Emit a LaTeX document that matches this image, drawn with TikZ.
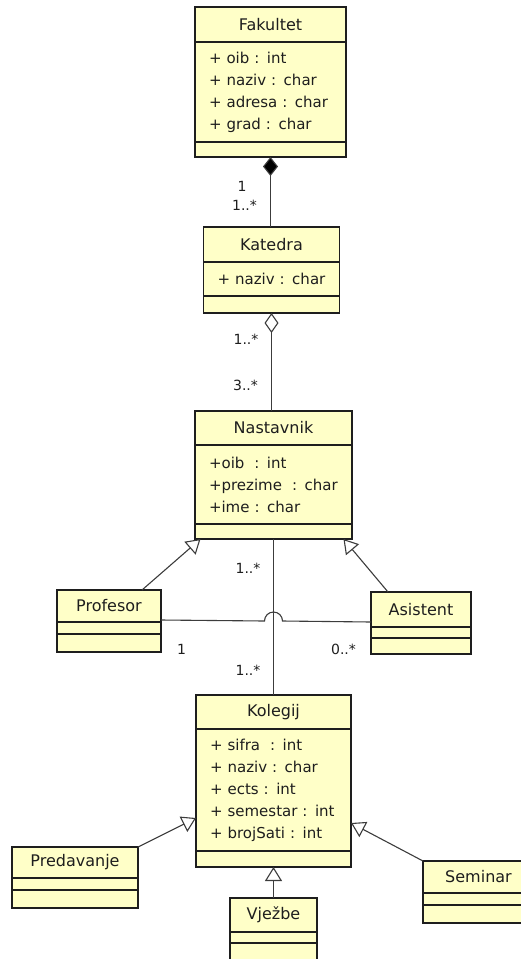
\documentclass[tikz,border=0pt]{standalone}
\usepackage{fontspec}
\setmainfont{DejaVu Sans}
\usetikzlibrary{arrows.meta,positioning}
\definecolor{umlfill}{HTML}{FFFFC8}
\definecolor{umlline}{HTML}{1E1E1E}
\definecolor{umlconn}{HTML}{3C3C3C}
\tikzset{
  umlhead/.style={draw=umlline,fill=umlfill,line width=1.3pt,outer sep=0pt,inner sep=0pt,align=center,text=umlline,font=\fontsize{16}{18}\selectfont},
  umlattr/.style={draw=umlline,fill=umlfill,line width=1.3pt,outer sep=0pt,inner xsep=14pt,inner ysep=0pt,align=left,text=umlline,font=\fontsize{15}{22}\selectfont},
  umlops/.style={draw=umlline,fill=umlfill,line width=1.3pt,outer sep=0pt,inner sep=0pt},
  umlassoc/.style={draw=umlconn,line width=1.1pt},
  umlcomp/.style={umlassoc,-{Diamond[length=19pt,width=15pt,fill=black]}},
  umlaggr/.style={umlassoc,-{Diamond[open,length=20pt,width=14pt,fill=white]}},
  umlgen/.style={umlassoc,-{Triangle[open,length=14pt,width=17pt,fill=white]}},
  umlmult/.style={inner sep=0pt,text=umlline,font=\fontsize{14}{16}\selectfont},
}
\begin{document}
\begin{tikzpicture}[x=1pt,y=1pt,node distance=0pt]
\useasboundingbox (0,0) rectangle (521,-959);
\clip (0,0) rectangle (521,-959);

% Fakultet
\node[umlhead,anchor=north,minimum width=151pt,minimum height=35pt] (fakh) at (270.5,-7) {Fakultet};
\node[umlattr,below=of fakh,text width=123pt,minimum height=100pt] (faka) {+ oib : int\\+ naziv : char\\+ adresa : char\\+ grad : char};
\node[umlops,below=of faka,minimum width=151pt,minimum height=15pt] (fako) {};

% Katedra
\node[umlhead,anchor=north,minimum width=136pt,minimum height=35pt] (kath) at (271.5,-227) {Katedra};
\node[umlattr,below=of kath,text width=108pt,minimum height=34pt] (kata) {+ naziv : char};
\node[umlops,below=of kata,minimum width=136pt,minimum height=17pt] (kato) {};

% Nastavnik
\node[umlhead,anchor=north,minimum width=157pt,minimum height=34pt] (nash) at (273.5,-411) {Nastavnik};
\node[umlattr,below=of nash,text width=129pt,minimum height=79pt] (nasa) {+oib \ : int\\+prezime \ : char\\+ime : char};
\node[umlops,below=of nasa,minimum width=157pt,minimum height=15pt] (naso) {};

% Profesor, Asistent
\node[umlhead,anchor=north,minimum width=104pt,minimum height=32pt] (profh) at (109,-590) {Profesor};
\node[umlops,below=of profh,minimum width=104pt,minimum height=12pt] (profa) {};
\node[umlops,below=of profa,minimum width=104pt,minimum height=18pt] (profo) {};

\node[umlhead,anchor=north,minimum width=100pt,minimum height=35pt] (asish) at (421,-592) {Asistent};
\node[umlops,below=of asish,minimum width=100pt,minimum height=11pt] (asisa) {};
\node[umlops,below=of asisa,minimum width=100pt,minimum height=16pt] (asiso) {};

% Kolegij
\node[umlhead,anchor=north,minimum width=155pt,minimum height=34pt] (kolh) at (273.5,-695) {Kolegij};
\node[umlattr,below=of kolh,text width=127pt,minimum height=122pt] (kola) {+ sifra \ : int\\+ naziv : char\\+ ects : int\\+ semestar : int\\+ brojSati : int};
\node[umlops,below=of kola,minimum width=155pt,minimum height=16pt] (kolo) {};

% Predavanje, Vjezbe, Seminar
\node[umlhead,anchor=north,minimum width=126pt,minimum height=31pt] (predh) at (75,-847) {Predavanje};
\node[umlops,below=of predh,minimum width=126pt,minimum height=12pt] (preda) {};
\node[umlops,below=of preda,minimum width=126pt,minimum height=18pt] (predo) {};

\node[umlhead,anchor=north,minimum width=87pt,minimum height=34pt] (vjeh) at (273.5,-898) {Vježbe};
\node[umlops,below=of vjeh,minimum width=87pt,minimum height=11pt] (vjea) {};
\node[umlops,below=of vjea,minimum width=87pt,minimum height=22pt] (vjeo) {};

\node[umlhead,anchor=north,minimum width=111pt,minimum height=32pt] (semh) at (478.5,-861) {Seminar};
\node[umlops,below=of semh,minimum width=111pt,minimum height=12pt] (sema) {};
\node[umlops,below=of sema,minimum width=111pt,minimum height=18pt] (semo) {};

% veze
\draw[umlcomp] (kath.north -| fako.south) -- (fako.south);
\draw[umlaggr] (nash.north -| kato.south) -- (kato.south);
\draw[umlgen] ([xshift=-19pt]profh.north east) -- ([xshift=-73pt]naso.south);
\draw[umlgen] ([xshift=17pt]asish.north west) -- ([xshift=70pt]naso.south);
\draw[umlassoc] (naso.south) -- (kolh.north);
\coordinate (jump) at (264.5,-621);
\draw[umlassoc] ([yshift=2pt]profh.south east) -- (jump) arc[start angle=180,end angle=0,radius=9pt] -- ([yshift=5pt]asish.south west);
\draw[umlgen] (predh.north east) -- ([yshift=-28pt]kola.west);
\draw[umlgen] (semh.north west) -- ([yshift=-33pt]kola.east);
\draw[umlgen] (vjeh.north) -- (kolo.south);

% multiplicities
\node[umlmult] (mf1) at (242,-186) {1};
\node[umlmult] (mf2) at (244.5,-205) {1..*};
\node[umlmult] (mk1) at (246,-339) {1..*};
\node[umlmult] (mk2) at (245.5,-385) {3..*};
\node[umlmult] (mn1) at (248,-568) {1..*};
\node[umlmult] (mp1) at (181.5,-649) {1};
\node[umlmult] (ma1) at (343.5,-649) {0..*};
\node[umlmult] (mn2) at (248,-670) {1..*};
\end{tikzpicture}
\end{document}
